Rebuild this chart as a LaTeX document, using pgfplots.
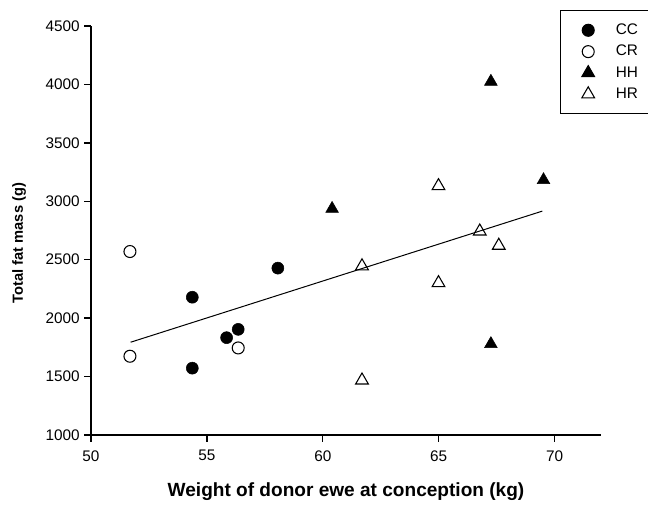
\documentclass[border=0pt]{standalone}
\usepackage{fontspec}
\setmainfont{Liberation Sans}
\usepackage{pgfplots}
\pgfplotsset{compat=1.18}
\begin{document}
\begin{tikzpicture}
\path[use as bounding box] (-68.25pt,-53.25pt) rectangle (417.75pt,326.25pt);
\begin{axis}[
  at={(0,0)}, anchor=south west,
  scale only axis, width=382.5pt, height=306.75pt,
  xmin=50, xmax=72, ymin=1000, ymax=4500,
  axis x line*=bottom, axis y line*=left,
  axis line style={line width=1.5pt},
  xtick={50,55,60,65,70}, ytick={1000,1500,2000,2500,3000,3500,4000,4500},
  tick align=outside, major tick length=5pt,
  tick style={line width=1pt, black},
  tick label style={font=\fontsize{11.5}{13}\selectfont},
  xticklabel style={yshift=-3pt},
  /pgf/number format/assume math mode=true,
  /pgf/number format/1000 sep={},
  xlabel={Weight of donor ewe at conception (kg)},
  ylabel={Total fat mass (g)},
  xlabel style={font=\bfseries\fontsize{14.3}{16}\selectfont, at={(axis description cs:0.5,-0.1394)}, anchor=center},
  ylabel style={font=\bfseries\fontsize{11}{14}\selectfont, at={(axis description cs:-0.141,0.469)}, anchor=center},
  legend cell align=left,
  legend style={at={(axis description cs:0.9196,1.039)}, anchor=north west,
    draw=black, line width=0.8pt, font=\fontsize{11.5}{13}\selectfont,
    row sep=2.5pt, inner xsep=16pt, inner ysep=8pt,
    /tikz/every odd column/.append style={column sep=14pt},
    /tikz/every even column/.append style={column sep=20pt}},
]
\addplot[only marks, mark=*, mark size=4.5pt, black] coordinates {
(54.37,2179) (54.37,1572) (55.85,1833) (56.35,1904) (58.06,2428)};
\addlegendentry{CC}
\addplot[only marks, mark=o, mark size=4.5pt, black, mark options={line width=0.8pt}] coordinates {
(51.68,2570) (51.68,1674) (56.35,1745)};
\addlegendentry{CR}
\addplot[only marks, mark=triangle*, mark size=5.5pt, black] coordinates {
(60.4,2936) (67.25,4024) (69.52,3182) (67.25,1779)};
\addlegendentry{HH}
\addplot[only marks, mark=triangle, mark size=5.5pt, black, mark options={line width=0.8pt}] coordinates {
(61.69,2445) (61.69,1468) (64.99,3131) (64.99,2301) (66.77,2743) (67.59,2621)};
\addlegendentry{HR}
\addplot[black, line width=0.75pt, forget plot] coordinates {(51.71,1794) (69.47,2916)};
\end{axis}
\end{tikzpicture}
\end{document}
